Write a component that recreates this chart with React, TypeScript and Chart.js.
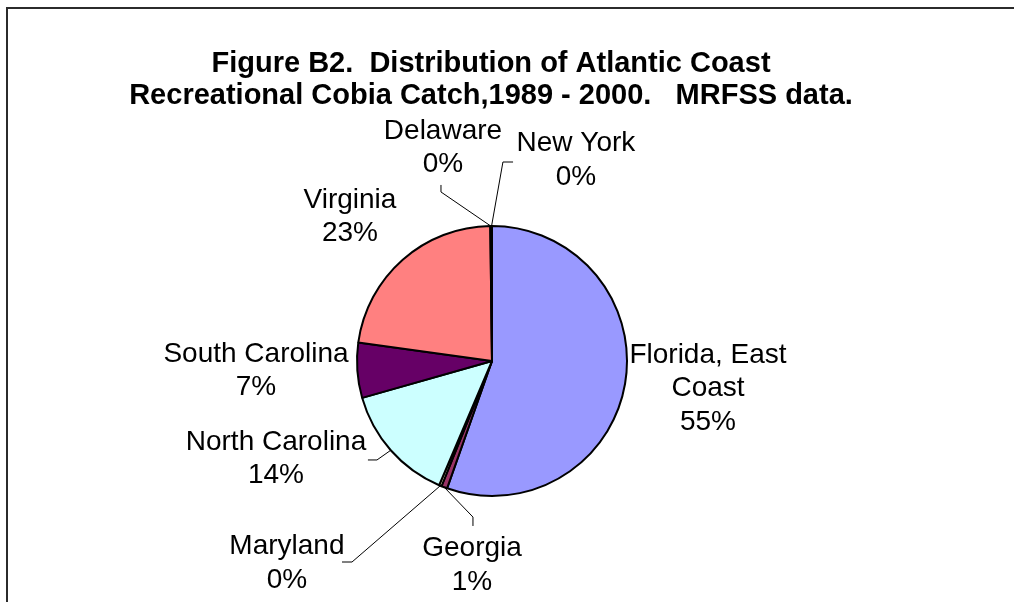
import React, { useEffect, useRef } from "react";
import { Chart, registerables } from "chart.js";

Chart.register(...registerables);

// ---- data ----
const categories = [
  "Florida, East Coast",
  "Georgia",
  "Maryland",
  "North Carolina",
  "South Carolina",
  "Virginia",
  "Delaware",
  "New York",
];
const labelLines = [
  ["Florida, East", "Coast"],
  ["Georgia"],
  ["Maryland"],
  ["North Carolina"],
  ["South Carolina"],
  ["Virginia"],
  ["Delaware"],
  ["New York"],
];
const catchShare = [55.4, 0.7, 0.3, 14.2, 6.6, 22.6, 0.1, 0.1];
const sliceColors = [
  "#9999FF",
  "#993366",
  "#FFFFCC",
  "#CCFFFF",
  "#660066",
  "#FF8080",
  "#0066CC",
  "#CCCCFF",
];
const titleLines = [
  "Figure B2.  Distribution of Atlantic Coast",
  "Recreational Cobia Catch,1989 - 2000.   MRFSS data.",
];

// ---- label layout (in units of pie radius, relative to pie centre) ----
const labelAnchor: [number, number][] = [
  [1.6, -0.045],
  [-0.148, 1.39],
  [-1.519, 1.375],
  [-1.6, 0.6],
  [-1.748, -0.052],
  [-1.052, -1.193],
  [-0.363, -1.704],
  [0.622, -1.61],
];
// leader polyline points after the arc point (radius units)
const leaderPts: ([number, number][] | null)[] = [
  null,
  [
    [-0.141, 1.156],
    [-0.141, 1.222],
  ],
  [
    [-1.037, 1.489],
    [-1.111, 1.489],
  ],
  [
    [-0.852, 0.733],
    [-0.919, 0.733],
  ],
  null,
  null,
  [
    [-0.378, -1.252],
    [-0.378, -1.304],
  ],
  [
    [0.081, -1.474],
    [0.156, -1.474],
  ],
];

const FONT = '"Liberation Sans", Arial, Helvetica, sans-serif';

const annotatePlugin = {
  id: "annotate",
  afterDraw(chart: any) {
    const ctx = chart.ctx as CanvasRenderingContext2D;
    ctx.save();
    // frame
    ctx.fillStyle = "#2b2b2b";
    ctx.fillRect(6, 7, chart.width - 6, 2);
    ctx.fillRect(6, 7, 2, chart.height - 7);

    // title
    ctx.fillStyle = "#000";
    ctx.font = `bold 29px ${FONT}`;
    ctx.textAlign = "center";
    ctx.textBaseline = "middle";
    titleLines.forEach((t, i) => ctx.fillText(t, 491, 64 + i * 32));

    const meta = chart.getDatasetMeta(0);
    const total = catchShare.reduce((a, b) => a + b, 0);
    ctx.font = `28px ${FONT}`;
    meta.data.forEach((arc: any, i: number) => {
      const p = arc.getProps(["x", "y", "startAngle", "endAngle", "outerRadius"], true);
      const r = p.outerRadius;
      const mid = (p.startAngle + p.endAngle) / 2;
      // leader line
      const pts = leaderPts[i];
      if (pts) {
        ctx.strokeStyle = "#000";
        ctx.lineWidth = 1;
        ctx.beginPath();
        ctx.moveTo(p.x + Math.cos(mid) * r, p.y + Math.sin(mid) * r);
        pts.forEach(([dx, dy]) => ctx.lineTo(p.x + dx * r, p.y + dy * r));
        ctx.stroke();
      }
      const pct = Math.round((catchShare[i] / total) * 100) + "%";
      const lines = [...labelLines[i], pct];
      const [ax, ay] = labelAnchor[i];
      const cx = p.x + ax * r;
      const cy = p.y + ay * r;
      ctx.fillStyle = "#000";
      lines.forEach((ln, k) => ctx.fillText(ln, cx, cy + k * 33.5));
    });
    ctx.restore();
  },
};

export default function App() {
  const ref = useRef<HTMLCanvasElement | null>(null);
  useEffect(() => {
    if (!ref.current) return;
    const chart = new Chart(ref.current, {
      type: "pie",
      data: {
        labels: categories,
        datasets: [
          {
            data: catchShare,
            backgroundColor: sliceColors,
            borderColor: "#000",
            borderWidth: 2,
          },
        ],
      },
      options: {
        responsive: false,
        animation: false,
        layout: { padding: { left: 356, right: 386, top: 225, bottom: 105 } },
        plugins: {
          legend: { display: false },
          title: { display: false },
          tooltip: { enabled: false },
        },
      },
      plugins: [annotatePlugin],
    });
    return () => chart.destroy();
  }, []);
  return (
    <div style={{ position: "absolute", left: 0, top: 0, width: 1014, height: 602, background: "#fff" }}>
      <canvas ref={ref} width={1014} height={602} style={{ display: "block" }} />
    </div>
  );
}
